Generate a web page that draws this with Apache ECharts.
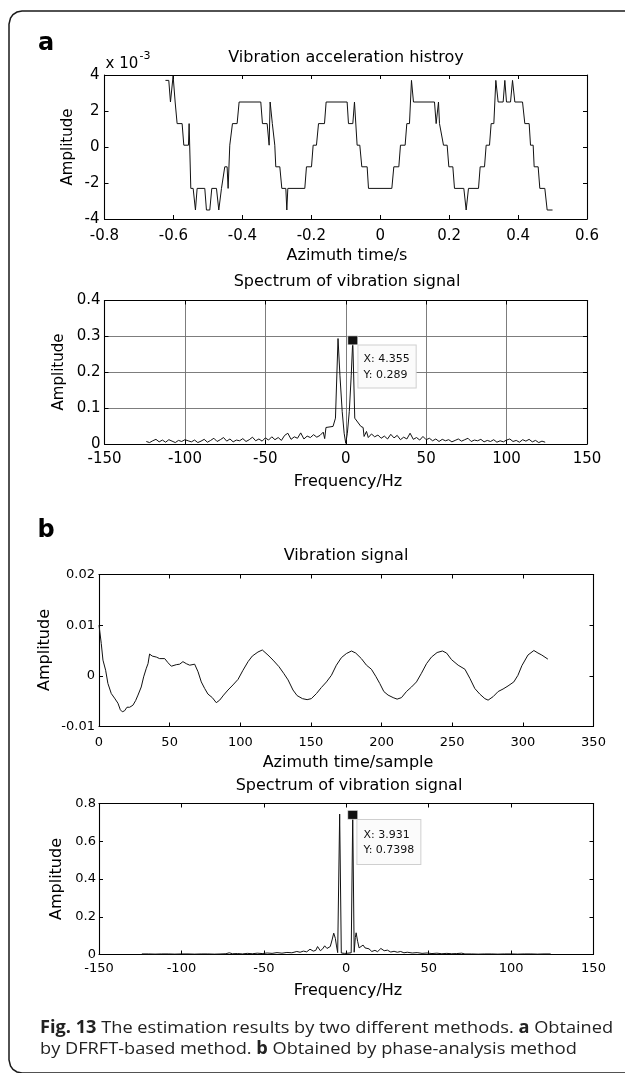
<!DOCTYPE html>
<html>
<head>
<meta charset="utf-8">
<script src="https://cdn.jsdelivr.net/npm/echarts@6/dist/echarts.min.js"></script>
<style>
html,body{margin:0;padding:0;background:#fff;}
#chart{width:625px;height:1073px;}
</style>
</head>
<body>
<div id="chart"></div>
<script>
// ---------- Panel a (top): vibration acceleration history (x 10^-3) ----------
var aTimeS = [-0.6231,-0.6135,-0.6086,-0.6028,-0.6009,-0.5950,-0.5893,-0.5748,-0.5699,-0.5564,
  -0.5545,-0.5496,-0.5428,-0.5361,-0.5312,-0.5090,-0.5042,-0.4945,-0.4887,-0.4751,
  -0.4684,-0.4606,-0.4510,-0.4442,-0.4413,-0.4365,-0.4326,-0.4287,-0.4152,-0.4094,
  -0.3465,-0.3417,-0.3281,-0.3223,-0.3194,-0.3130,-0.3059,-0.3030,-0.2913,-0.2855,
  -0.2739,-0.2710,-0.2681,-0.2188,-0.2140,-0.1994,-0.1946,-0.1850,-0.1790,-0.1617,
  -0.1569,-0.0960,-0.0921,-0.0795,-0.0747,-0.0670,-0.0592,-0.0534,-0.0379,-0.0340,
  0.0337,0.0395,0.0540,0.0588,0.0723,0.0772,0.0849,0.0907,0.0965,0.1575,
  0.1623,0.1691,0.1720,0.1836,0.1942,0.1991,0.2107,0.2155,0.2426,0.2494,
  0.2561,0.2852,0.2900,0.3026,0.3074,0.3171,0.3219,0.3297,0.3355,0.3422,
  0.3567,0.3616,0.3664,0.3781,0.3839,0.3906,0.4129,0.4196,0.4322,0.4361,
  0.4438,0.4467,0.4583,0.4631,0.4776,0.4844,0.5000];
var aAccelMilli = [3.7,3.7,2.5,2.5,3.95,2.5,1.3,1.3,0.1,0.1,
  1.3,-2.3,-2.3,-3.5,-2.3,-2.3,-3.5,-3.5,-2.3,-2.3,
  -3.5,-2.3,-1.1,-1.1,-2.3,0.1,0.1,1.3,1.3,2.5,
  2.5,1.3,1.3,0.1,2.5,1.3,0.1,-1.1,-1.1,-2.3,
  -2.3,-3.5,-2.3,-2.3,-1.1,-1.1,0.1,0.1,1.3,1.3,
  2.5,2.5,1.3,1.3,2.5,0.1,0.1,-1.1,-1.1,-2.3,
  -2.3,-1.1,-1.1,0.1,0.1,1.3,1.3,3.7,2.5,2.5,
  1.3,2.5,1.3,0.1,0.1,-1.1,-1.1,-2.3,-2.3,-3.5,
  -2.3,-2.3,-1.1,-1.1,0.1,0.1,1.3,1.3,3.7,2.5,
  2.5,3.7,2.5,2.5,3.7,2.5,2.5,1.3,1.3,0.1,
  0.1,-1.1,-1.1,-2.3,-2.3,-3.5,-3.5];

// ---------- Panel a (bottom): spectrum ----------
var aSpecFreq = [-124,-122,-120,-118,-116,-114,-112,-110,-108,-106,-104,-102,-100,-98,-96,-94,-92,-90,-88,-86,
  -84,-82,-80,-78,-76,-74,-72,-70,-68,-66,-64,-62,-60,-58,-56,-54,-52,-50,-48,-46,
  -44,-42,-40,-38,-36,-34,-32,-30,-28,-26,-24,-22,-20,-18,-16,-14,
  -13.1,-12.3,-7.9,-6.4,-4.8,-3.6,-2.2,-1,0,1,2.2,3.4,4.355,5.6,9.4,10.8,11.4,12.9,
  14,16,18,20,22,24,26,28,30,32,34,36,38,40,42,44,46,48,50,52,54,56,58,60,
  62,64,66,68,70,72,74,76,78,80,82,84,86,88,90,92,94,96,98,100,
  102,104,106,108,110,112,114,116,118,120,122,124];
var aSpecAmp = [0.007,0.004,0.009,0.013,0.006,0.011,0.005,0.012,0.008,0.004,0.010,0.007,0.012,0.009,0.006,0.011,0.004,0.008,0.013,0.005,
  0.010,0.016,0.007,0.012,0.018,0.008,0.014,0.006,0.011,0.009,0.015,0.007,0.012,0.019,0.009,0.014,0.008,0.017,0.011,0.020,
  0.012,0.018,0.010,0.024,0.030,0.013,0.020,0.016,0.031,0.014,0.022,0.018,0.026,0.019,0.024,0.033,
  0.015,0.046,0.049,0.072,0.294,0.190,0.090,0.030,0.002,0.030,0.090,0.190,0.289,0.072,0.049,0.046,0.021,0.035,
  0.018,0.028,0.020,0.025,0.016,0.022,0.014,0.027,0.017,0.024,0.012,0.019,0.014,0.030,0.013,0.018,0.011,0.021,0.012,0.016,0.009,0.014,0.007,0.013,
  0.009,0.012,0.006,0.010,0.014,0.008,0.012,0.016,0.007,0.011,0.009,0.013,0.006,0.010,0.007,0.012,0.005,0.009,0.006,0.011,
  0.014,0.007,0.010,0.005,0.012,0.008,0.013,0.006,0.010,0.004,0.008,0.005];
var aTip = {x: 4.355, y: 0.289};

// ---------- Panel b (top): vibration signal (units 1e-3) ----------
var bSample = [0,1.6,2.8,4.7,6.3,8.7,11,13.4,15.1,16.5,18.1,19.8,21.7,24,25.9,27.6,29.9,31.6,33.5,34.7,
  35.8,37.7,40.6,42.9,46.5,48.8,51.2,54.7,57.1,59.4,61.8,64.2,67.7,70.1,72.4,74.8,77.1,80.2,83,85.4,
  88.2,91.3,94.8,98.4,101.9,105.5,108.5,112.5,115.6,119.6,123.2,127.4,130.7,133.8,137.3,140.2,144,147.3,150.3,153.9,
  157.4,161,164.5,168,171.6,175.1,178.7,181.7,185.7,189.3,192.8,195.9,198.7,201.6,204.6,208.2,211,214.1,217.6,221.2,
  224.7,228.2,231.8,235.3,239.3,243.1,246,249.5,254.2,259,262.5,266,269.5,273.1,275.4,279,282.5,286,289.5,293.6,
  296.5,299.3,303.6,307.8,310.7,313.4,317.7];
var bSignalMilli = [10.0,6.4,3.1,1.1,-1.5,-3.5,-4.4,-5.4,-6.7,-7.1,-6.9,-6.2,-6.2,-5.8,-4.9,-3.8,-2.2,-0.2,1.5,2.4,
  4.3,3.9,3.7,3.4,3.4,2.6,1.9,2.2,2.3,2.8,2.4,2.1,2.3,0.8,-1.2,-2.5,-3.6,-4.3,-5.3,-4.8,
  -3.8,-2.8,-1.8,-0.7,1.1,2.8,3.9,4.7,5.1,4.1,3.1,1.8,0.5,-0.8,-2.8,-3.9,-4.5,-4.7,-4.5,-3.5,
  -2.3,-1.2,0.1,2.1,3.6,4.4,4.9,4.5,3.4,2.1,1.3,-0.1,-1.5,-3.1,-3.8,-4.3,-4.6,-4.3,-3.1,-2.2,
  -1.2,0.5,2.4,3.7,4.6,4.9,4.5,3.2,2.1,1.3,-0.5,-2.5,-3.6,-4.5,-4.8,-4.1,-3.1,-2.6,-2.0,-1.2,
  0.1,2.0,4.1,5.0,4.5,4.1,3.3];

// ---------- Panel b (bottom): spectrum ----------
var bSpecFreq = [-124,-120,-116,-112,-108,-104,-100,-96,-92,-88,-84,-80,-76,-73,-71,-69,-66,-63,-60,-57,
  -54,-51,-48,-45,-42,-39,-36,-33,-30,-28,-26,-24,-22,-20,-18.5,-17.4,-15.7,-14.3,-13.1,-11.7,
  -9.7,-8.6,-7.6,-6.6,-6,-5.2,-4.0,-3.0,-2,-1,0,1,2,3.0,3.931,4.8,5.5,6.0,6.9,7.8,
  8.8,10.2,11.4,12.6,13.8,15.5,17.4,19,21,23,25,27,29,31,33,35,37,40,43,46,
  49,52,55,58,61,64,67,70,72,76,80,84,88,92,96,100,104,108,112,116,120,124];
var bSpecAmp = [0.003,0.003,0.002,0.003,0.003,0.002,0.003,0.003,0.002,0.003,0.003,0.002,0.003,0.004,0.009,0.004,0.005,0.003,0.006,0.004,
  0.007,0.005,0.008,0.006,0.010,0.007,0.011,0.009,0.016,0.012,0.018,0.014,0.028,0.018,0.022,0.042,0.020,0.030,0.046,0.032,
  0.042,0.077,0.113,0.085,0.050,0.010,0.744,0.008,0.012,0.006,0.004,0.007,0.012,0.009,0.7398,0.012,0.090,0.115,0.070,0.035,
  0.030,0.050,0.035,0.028,0.030,0.016,0.022,0.015,0.032,0.020,0.023,0.013,0.017,0.012,0.016,0.009,0.012,0.008,0.010,0.006,
  0.008,0.005,0.007,0.004,0.006,0.004,0.005,0.007,0.003,0.003,0.002,0.003,0.003,0.002,0.003,0.003,0.002,0.003,0.003,0.002,0.003,0.003];
var bTip = {x: 3.931, y: 0.7398};

// ---------- axis ticks ----------
var aTopX = {min: -0.8, max: 0.6, interval: 0.2};
var aTopY = {min: -4, max: 4, interval: 2};
var aBotX = {min: -150, max: 150, interval: 50};
var aBotY = {min: 0, max: 0.4, interval: 0.1};
var bTopX = {min: 0, max: 350, interval: 50};
var bTopY = {min: -0.01, max: 0.02, interval: 0.01};
var bBotX = {min: -150, max: 150, interval: 50};
var bBotY = {min: 0, max: 0.8, interval: 0.2};

function zip(xs, ys, k) { var o = []; for (var i = 0; i < xs.length; i++) o.push([xs[i], ys[i] * (k || 1)]); return o; }

var FONT = 'DejaVu Sans';
var BLACK = '#000';
var axisLineStyle = {color: BLACK, width: 1.1};

function mkAxis(gi, r, pos, showLab, fs, margin, grid) {
  return {gridIndex: gi, type: 'value', min: r.min, max: r.max, interval: r.interval, position: pos,
    axisLine: {show: true, onZero: false, lineStyle: axisLineStyle},
    axisTick: {show: true, inside: true, length: 4, lineStyle: {color: BLACK, width: 1}},
    axisLabel: {show: showLab, color: BLACK, fontFamily: FONT, fontSize: fs, margin: margin},
    splitLine: {show: !!grid, showMinLine: false, showMaxLine: false, lineStyle: {color: '#6e6e6e', width: 0.9}}};
}

var grids = [
  {left: 104.5, top: 75, width: 482.5, height: 144},
  {left: 104.5, top: 300.5, width: 482.5, height: 143.5},
  {left: 99, top: 574.5, width: 494.5, height: 152},
  {left: 99, top: 803.5, width: 494.5, height: 151}
];

var xAxes = [
  mkAxis(0, aTopX, 'bottom', true, 15, 10), mkAxis(0, aTopX, 'top', false, 15, 10),
  mkAxis(1, aBotX, 'bottom', true, 15, 8, true), mkAxis(1, aBotX, 'top', false, 15, 8),
  mkAxis(2, bTopX, 'bottom', true, 13, 10), mkAxis(2, bTopX, 'top', false, 13, 10),
  mkAxis(3, bBotX, 'bottom', true, 13, 8), mkAxis(3, bBotX, 'top', false, 13, 8)
];
var yAxes = [
  mkAxis(0, aTopY, 'left', true, 15, 5), mkAxis(0, aTopY, 'right', false, 15, 5),
  mkAxis(1, aBotY, 'left', true, 15, 4, true), mkAxis(1, aBotY, 'right', false, 15, 4),
  mkAxis(2, bTopY, 'left', true, 13, 4), mkAxis(2, bTopY, 'right', false, 13, 4),
  mkAxis(3, bBotY, 'left', true, 13, 3), mkAxis(3, bBotY, 'right', false, 13, 3)
];

function tipPoint(tip, offs, pad) {
  return {
    symbol: 'rect', symbolSize: [10, 9], silent: true, animation: false,
    data: [{coord: [tip.x, tip.y], itemStyle: {color: '#111', borderColor: '#fff', borderWidth: 0.6},
      label: {show: true, position: offs, formatter: 'X: ' + tip.x + '\nY: ' + tip.y,
        color: '#111', fontFamily: FONT, fontSize: 11, lineHeight: 15.5, align: 'left', verticalAlign: 'top',
        backgroundColor: '#fbfbfb', borderColor: '#cfcfcf', borderWidth: 1, padding: pad}}]
  };
}

function lineSeries(i, data, tip) {
  var s = {type: 'line', xAxisIndex: 2 * i, yAxisIndex: 2 * i, data: data, symbol: 'none', showSymbol: false,
    lineStyle: {color: '#111', width: 1}, animation: false, silent: true, z: 3};
  if (tip) s.markPoint = tip;
  return s;
}

var series = [
  lineSeries(0, zip(aTimeS, aAccelMilli)),
  lineSeries(1, zip(aSpecFreq, aSpecAmp), tipPoint(aTip, [11, 10], [6, 6, 5, 5])),
  lineSeries(2, zip(bSample, bSignalMilli, 0.001)),
  lineSeries(3, zip(bSpecFreq, bSpecAmp), tipPoint(bTip, [10, 10], [7, 6, 6, 6]))
];

function txt(x, y, s, size, opt) {
  opt = opt || {};
  return {type: 'text', x: x, y: y, rotation: opt.rot || 0, silent: true, z: 10,
    style: {text: s, fill: opt.color || BLACK, font: (opt.weight || 'normal') + ' ' + size + 'px "' + (opt.family || FONT) + '"',
      align: opt.align || 'center', verticalAlign: 'middle'}};
}

// decorative frame (rounded left corners, open on the right)
var framePts = [[625, 11], [22, 11], [17, 12], [13, 14.5], [10.5, 18], [9, 24], [9, 1060], [10.5, 1066], [13, 1069.5], [17, 1072], [22, 1073], [625, 1073]];

var captionRich = {b: {fontWeight: 'bold', fontFamily: 'Open Sans', fontSize: 17, fill: '#222'}};

var graphics = [
  {type: 'polyline', silent: true, shape: {points: framePts}, style: {fill: null, stroke: '#1a1a1a', lineWidth: 1.5}},
  txt(46, 44, 'a', 24, {weight: 'bold'}),
  txt(346, 57.5, 'Vibration acceleration histroy', 16),
  txt(105.5, 64, 'x 10', 15, {align: 'left'}),
  txt(139.5, 56.5, '-3', 11, {align: 'left'}),
  txt(347, 256, 'Azimuth time/s', 16),
  txt(68, 147, 'Amplitude', 15, {rot: Math.PI / 2}),
  txt(347, 282, 'Spectrum of vibration signal', 16),
  txt(348, 482, 'Frequency/Hz', 16),
  txt(59, 372, 'Amplitude', 15, {rot: Math.PI / 2}),
  txt(46, 531, 'b', 24, {weight: 'bold'}),
  txt(346, 556, 'Vibration signal', 16),
  txt(45, 650, 'Amplitude', 16, {rot: Math.PI / 2}),
  txt(348, 762.5, 'Azimuth time/sample', 16),
  txt(349, 785.5, 'Spectrum of vibration signal', 16),
  txt(57, 879, 'Amplitude', 16, {rot: Math.PI / 2}),
  txt(348, 990.5, 'Frequency/Hz', 16),
  {type: 'text', x: 40, y: 1028, scaleX: 1.07, silent: true,
    style: {text: '{b|Fig. 13} The estimation results by two different methods. {b|a} Obtained',
      rich: captionRich, fill: '#222', font: '17px "Open Sans"', align: 'left', verticalAlign: 'middle'}},
  {type: 'text', x: 40, y: 1049.5, scaleX: 1.07, silent: true,
    style: {text: 'by DFRFT-based method. {b|b} Obtained by phase-analysis method',
      rich: captionRich, fill: '#222', font: '17px "Open Sans"', align: 'left', verticalAlign: 'middle'}}
];

var chart = echarts.init(document.getElementById('chart'), null, {renderer: 'canvas'});
chart.setOption({
  animation: false,
  backgroundColor: '#fff',
  grid: grids,
  xAxis: xAxes,
  yAxis: yAxes,
  series: series,
  graphic: graphics
});
</script>
</body>
</html>
